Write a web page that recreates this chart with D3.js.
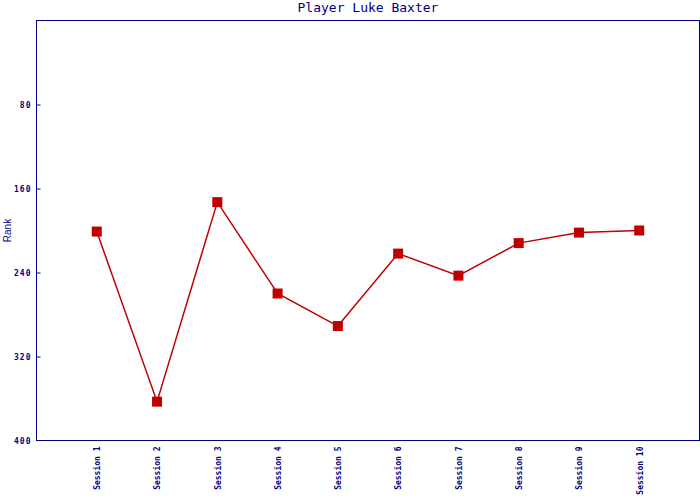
<!DOCTYPE html>
<html><head><meta charset="utf-8">
<script src="https://cdn.jsdelivr.net/npm/d3@7"></script>
<style>body{margin:0;background:#fff;}svg{display:block;}</style>
</head><body>
<svg id="c" width="700" height="500"></svg>
<script>
const title = "Player Luke Baxter";
const yTitle = "Rank";
const categories = ["Session 1","Session 2","Session 3","Session 4","Session 5","Session 6","Session 7","Session 8","Session 9","Session 10"];
const ranks = [201, 363, 173, 260, 291, 222, 243, 212, 202, 200];
const yTicks = [80, 160, 240, 320, 400];

const svg = d3.select("#c");
const L = 36.5, R = 699.5, T = 20.5, B = 440.5;
const navy = "#000080", red = "#c00000";
const mono = "'DejaVu Sans Mono', monospace";

const x = d3.scaleLinear().domain([0, categories.length + 1]).range([L, R]);
const y = d3.scaleLinear().domain([0, 400]).range([T, B]);

svg.append("rect").attr("x", L).attr("y", T).attr("width", R - L).attr("height", B - T)
  .attr("fill", "none").attr("stroke", navy).attr("stroke-width", 1);

const yAxis = d3.axisRight(y).tickValues(yTicks).tickSize(4).tickSizeOuter(0).tickFormat(d3.format("d"));
const gy = svg.append("g").attr("transform", `translate(${L},0)`).call(yAxis);
gy.select(".domain").remove();
gy.selectAll("line").attr("stroke", navy);
gy.selectAll("text").attr("x", -5).attr("text-anchor", "end").attr("dy", "0.35em")
  .attr("fill", navy).style("font-family", mono).style("font-size", "8px").style("font-weight", "bold")
  .style("letter-spacing", "1px");
gy.selectAll(".tick").filter(d => d === 400).select("line").remove();

const xAxis = d3.axisBottom(x).tickValues(d3.range(1, categories.length + 1))
  .tickFormat(i => categories[i - 1]).tickSize(0);
const gx = svg.append("g").attr("transform", `translate(0,${B})`).call(xAxis);
gx.select(".domain").remove();
gx.selectAll("text").attr("transform", "rotate(-90)").attr("x", -6).attr("y", 0).attr("dy", "0.35em")
  .attr("text-anchor", "end").attr("fill", navy)
  .style("font-family", mono).style("font-size", "8px").style("font-weight", "bold");

svg.append("text").attr("x", (L + R) / 2).attr("y", 12).attr("text-anchor", "middle")
  .attr("fill", navy).style("font-family", mono).style("font-size", "13px").text(title);

svg.append("text").attr("transform", `translate(11,${(T + B) / 2}) rotate(-90)`)
  .attr("text-anchor", "middle").attr("fill", navy)
  .style("font-family", "'Liberation Sans', Arial, sans-serif").style("font-size", "10px").text(yTitle);

const line = d3.line().x((d, i) => x(i + 1)).y(d => y(d));
svg.append("path").datum(ranks).attr("d", line).attr("fill", "none")
  .attr("stroke", red).attr("stroke-width", 1.5);

svg.selectAll("rect.pt").data(ranks).enter().append("rect").attr("class", "pt")
  .attr("x", (d, i) => x(i + 1) - 5).attr("y", d => y(d) - 5)
  .attr("width", 10).attr("height", 10).attr("fill", red);
</script>
</body></html>
